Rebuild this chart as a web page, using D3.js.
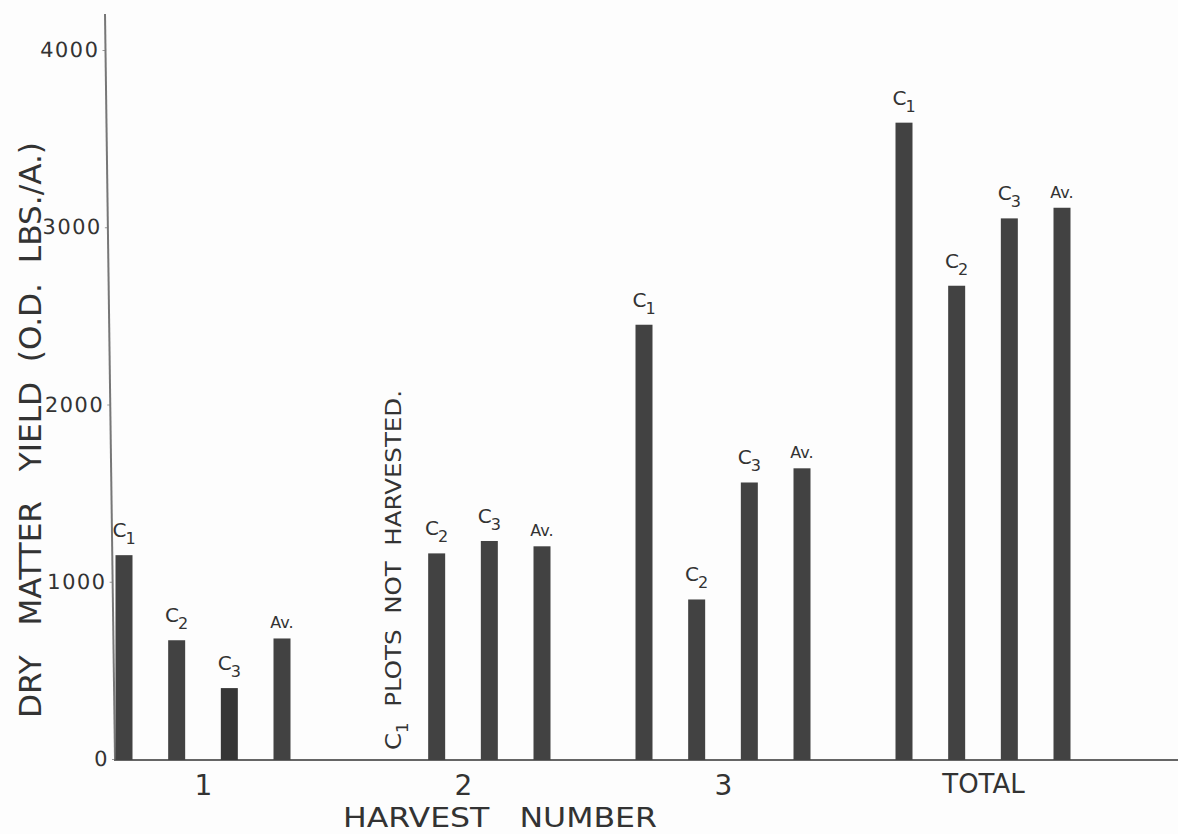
<!DOCTYPE html>
<html>
<head>
<meta charset="utf-8">
<script src="https://cdn.jsdelivr.net/npm/d3@7"></script>
<style>
  body { margin: 0; background: #fdfdfd; }
  svg { display: block; }
  text { font-family: "DejaVu Sans", sans-serif; fill: #333; white-space: pre; }
</style>
</head>
<body>
<div id="vis"></div>
<script>
const FRAME_WIDTH = 1178;
const FRAME_HEIGHT = 834;

// data
const GROUPS = ["1", "2", "3", "TOTAL"];
const SERIES = ["C1", "C2", "C3", "Av."];
const C1_VALUES = [1150, null, 2450, 3590];
const C2_VALUES = [670, 1160, 900, 2670];
const C3_VALUES = [400, 1230, 1560, 3050];
const AV_VALUES = [680, 1200, 1640, 3110];
const Y_TICKS = [0, 1000, 2000, 3000, 4000];

const BAR_W = 17;
const BASE_Y = 760;

const FRAME = d3
  .select("#vis")
  .append("svg")
  .attr("width", FRAME_WIDTH)
  .attr("height", FRAME_HEIGHT);

const Y_SCALE = d3.scaleLinear().domain([0, 4000]).range([759, 50]);
const X_GROUP = d3.scalePoint().domain(GROUPS).range([203, 983]);
const X_SERIES = d3.scalePoint().domain(SERIES).range([-79, 79]);

const rows = [];
const allValues = [C1_VALUES, C2_VALUES, C3_VALUES, AV_VALUES];
GROUPS.forEach((g, i) => {
  SERIES.forEach((s, j) => {
    const v = allValues[j][i];
    if (v !== null) rows.push({ group: g, series: s, value: v });
  });
});

// y axis, slightly slanted like the scanned drawing
const yAxis = FRAME.append("g")
  .attr("transform", `translate(${115 - 0.0134 * BASE_Y},0) skewX(0.77)`)
  .call(
    d3.axisLeft(Y_SCALE)
      .tickValues(Y_TICKS)
      .tickFormat(d3.format("d"))
      .tickSize(3)
      .tickPadding(3)
  );
yAxis.select(".domain").remove();
yAxis.selectAll(".tick line").attr("stroke", "#999");
yAxis.selectAll(".tick text")
  .style("font-size", "21px")
  .style("letter-spacing", "1.5px")
  .attr("fill", "#333");
yAxis.append("line")
  .attr("x1", 0)
  .attr("x2", 0)
  .attr("y1", 14)
  .attr("y2", BASE_Y)
  .attr("stroke", "#777")
  .attr("stroke-width", 2);

// baseline
FRAME.append("line")
  .attr("x1", 114)
  .attr("x2", FRAME_WIDTH)
  .attr("y1", BASE_Y)
  .attr("y2", BASE_Y)
  .attr("stroke", "#666")
  .attr("stroke-width", 2);

// bars
FRAME.selectAll(".bar")
  .data(rows)
  .enter()
  .append("rect")
  .attr("class", "bar")
  .attr("x", (d) => X_GROUP(d.group) + X_SERIES(d.series) - BAR_W / 2)
  .attr("y", (d) => Y_SCALE(d.value))
  .attr("width", BAR_W)
  .attr("height", (d) => BASE_Y - Y_SCALE(d.value))
  .attr("fill", (d) => (d.group === "1" && d.series === "C3" ? "#363636" : "#424242"));

// bar labels
const labels = FRAME.selectAll(".lbl")
  .data(rows)
  .enter()
  .append("text")
  .attr("class", "lbl")
  .attr("x", (d) => X_GROUP(d.group) + X_SERIES(d.series))
  .attr("y", (d) => Y_SCALE(d.value) - (d.series === "Av." ? 10 : 18))
  .attr("text-anchor", "middle");

labels.filter((d) => d.series === "Av.")
  .style("font-size", "16px")
  .text("Av.");

labels.filter((d) => d.series !== "Av.")
  .style("font-size", "20px")
  .each(function (d) {
    const t = d3.select(this);
    t.append("tspan").text("C");
    t.append("tspan")
      .attr("dy", 7)
      .attr("dx", -1)
      .style("font-size", "16px")
      .text(d.series.slice(1));
  });

// group labels
const xAxis = FRAME.append("g")
  .attr("transform", `translate(0,${BASE_Y + 10})`)
  .call(d3.axisBottom(X_GROUP).tickSize(0).tickPadding(0));
xAxis.select(".domain").remove();
xAxis.selectAll(".tick text")
  .attr("dy", "0.9em")
  .style("font-size", (d) => (d === "TOTAL" ? "26px" : "28px"))
  .attr("fill", "#333");

// note for harvest 2
FRAME.append("text")
  .attr("transform", `translate(401,750) rotate(-90)`)
  .attr("textLength", 360)
  .attr("lengthAdjust", "spacingAndGlyphs")
  .style("font-size", "22px")
  .call((t) => {
    t.append("tspan").text("C");
    t.append("tspan").attr("dy", 7).style("font-size", "15px").text("1");
    t.append("tspan").attr("dy", -7).text("  PLOTS  NOT  HARVESTED.");
  });

// axis titles
FRAME.append("text")
  .attr("x", 343)
  .attr("y", 827)
  .attr("textLength", 314)
  .attr("lengthAdjust", "spacingAndGlyphs")
  .style("font-size", "27px")
  .text("HARVEST   NUMBER");

FRAME.append("text")
  .attr("transform", "translate(41,718) rotate(-90)")
  .attr("textLength", 576)
  .attr("lengthAdjust", "spacingAndGlyphs")
  .style("font-size", "30px")
  .text("DRY   MATTER   YIELD  (O.D.  LBS./A.)");
</script>
</body>
</html>
